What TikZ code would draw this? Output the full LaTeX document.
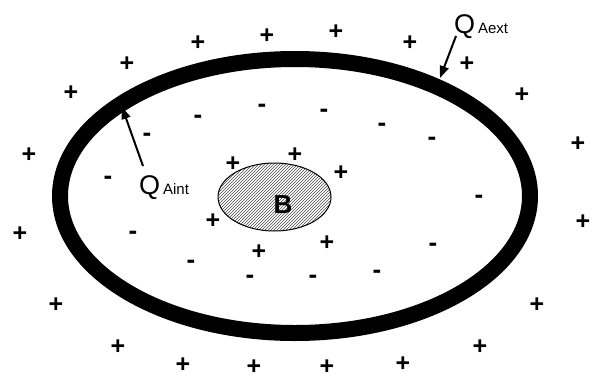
\documentclass[tikz,border=0pt]{standalone}
\usepackage{fontspec}
\setmainfont{Liberation Sans}
\usetikzlibrary{patterns,arrows.meta}
\begin{document}
\begin{tikzpicture}[x=1pt,y=-1pt,
  pl/.style={font=\fontsize{25}{25}\selectfont\bfseries, inner sep=0pt},
  mi/.style={font=\fontsize{26}{26}\selectfont\bfseries, inner sep=0pt},
  qlab/.style={font=\fontsize{27}{27}\selectfont, inner sep=0pt, anchor=base west},
  sublab/.style={font=\fontsize{15}{15}\selectfont, inner sep=0pt, anchor=base west},
  pointer/.style={line width=2pt, -{Triangle[length=12pt,width=9pt]}}]
\useasboundingbox (0,0) rectangle (592,378);
% conductor shell A
\draw[line width=16pt] (295,196) ellipse [x radius=235, y radius=137];
% body B
\draw[line width=1pt, pattern=north east lines, pattern color=black!70] (274.5,197) ellipse [x radius=56.5, y radius=34];
\node[font=\fontsize{26}{26}\selectfont\bfseries, inner sep=0pt] (B) at (283,205) {B};
% outer positive charges
\foreach \x/\y [count=\i] in {198/43,267/36,336/32,410/43,467/64,127/64,71/93,522/95,29/155,578/144,
  20/234,583/222,56/305,537/305,480/347,118/347,183/365,254/367,327/367,403/364}
  \node[pl] (po\i) at (\x,\y) {+};
% inner positive charges around B
\foreach \x/\y [count=\i] in {233/164,295/155,341/173,213/221,259/252,327/243}
  \node[pl] (pi\i) at (\x,\y) {+};
% negative charges
\foreach \x/\y [count=\i] in {147/137,198/119,262/108,108/180,324/113,382/127,432/141,
  479/199,433/247,377/274,313/279,133/235,191/264,250/279}
  \node[mi] (m\i) at (\x,\y) {-};
% labels
\node[qlab] (Qint) at (139,194) {Q};
\node[sublab] (Qintsub) at (Qint.base east) {\,Aint};
\node[qlab] (Qext) at (454,33) {Q};
\node[sublab] (Qextsub) at (Qext.base east) {\,Aext};
\coordinate (tipint) at (122,107);
\coordinate (tipext) at (440,78);
\coordinate (tailint) at (143,166);
\coordinate (tailext) at (456,36);
\draw[pointer] (tailint) -- (tipint);
\draw[pointer] (tailext) -- (tipext);
\end{tikzpicture}
\end{document}
